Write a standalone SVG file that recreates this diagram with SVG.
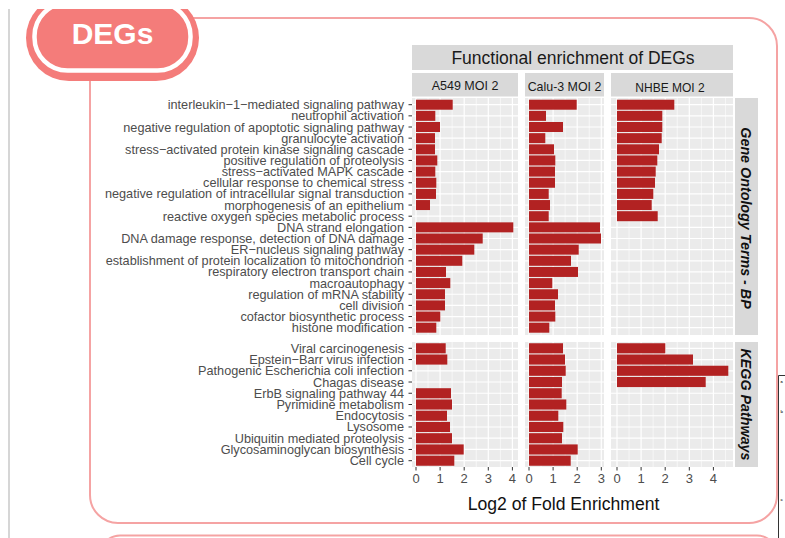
<svg xmlns="http://www.w3.org/2000/svg" width="785" height="538" viewBox="0 0 785 538">
<defs>
<style>
.lbl{font-family:"Liberation Sans",Arial,sans-serif;font-size:12.7px;fill:#4d4d4d;text-anchor:end}
.tk{font-family:"Liberation Sans",Arial,sans-serif;font-size:13px;fill:#4d4d4d;text-anchor:middle}
.strip{fill:#d9d9d9}
.panel{fill:#ebebeb}
.bar{fill:#b22222}
.stxt{font-family:"Liberation Sans",Arial,sans-serif;fill:#1a1a1a;text-anchor:middle}
.rtxt{font-family:"Liberation Sans",Arial,sans-serif;font-weight:bold;font-style:italic;font-size:14.3px;fill:#111;text-anchor:middle}
</style>
<clipPath id="top"><rect x="0" y="9" width="785" height="529"/></clipPath>
</defs>
<rect x="0" y="0" width="785" height="538" fill="#fff"/>
<line x1="9" y1="9" x2="9" y2="538" stroke="#c8c8c8" stroke-width="1.5"/>

<g id="frame">
<rect x="90" y="18" width="687" height="505" rx="28" fill="none" stroke="#f5a3a3" stroke-width="2"/>
<rect x="100" y="535.5" width="677" height="40" rx="20" fill="none" stroke="#f5a3a3" stroke-width="2"/>
</g>

<g id="badge" clip-path="url(#top)">
<rect x="26" y="-5" width="173" height="86" rx="43" fill="#f47c7a"/>
<rect x="34.5" y="3" width="156" height="67.5" rx="33" fill="#f47c7a" stroke="#fff" stroke-width="4.5"/>
<text x="112.5" y="43.5" font-family="'Liberation Sans',Arial,sans-serif" font-size="30" font-weight="bold" fill="#fff" text-anchor="middle">DEGs</text>
</g>

<g id="side-box">
<path d="M785 375.5H778.5V538" fill="none" stroke="#333" stroke-width="1"/>
<text x="780.5" y="383" font-family="'Liberation Sans',Arial,sans-serif" font-size="4" font-weight="bold" fill="#333">a</text>
<text x="780.5" y="413" font-family="'Liberation Sans',Arial,sans-serif" font-size="4" font-weight="bold" fill="#333">b</text>
<text x="780.5" y="501" font-family="'Liberation Sans',Arial,sans-serif" font-size="4" font-weight="bold" fill="#333">c</text>
</g>

<g id="strips">
<rect class="strip" x="412" y="45" width="321" height="25"/>
<text class="stxt" x="573" y="64" font-size="17.5">Functional enrichment of DEGs</text>
<rect class="strip" x="412" y="73" width="106" height="23.5"/>
<rect class="strip" x="525" y="73" width="79" height="23.5"/>
<rect class="strip" x="611" y="73" width="122" height="23.5"/>
<text class="stxt" x="465" y="90" font-size="12.5">A549 MOI 2</text>
<text class="stxt" x="564.5" y="91" font-size="12.4">Calu-3 MOI 2</text>
<text class="stxt" x="670" y="91.5" font-size="12">NHBE MOI 2</text>
<rect class="strip" x="735" y="98" width="23" height="237"/>
<rect class="strip" x="735" y="342" width="23" height="125"/>
<text class="rtxt" transform="translate(741,218) rotate(90)">Gene Ontology Terms - BP</text>
<text class="rtxt" transform="translate(741,404.5) rotate(90)">KEGG Pathways</text>
</g>

<g id="panels">
<rect class="panel" x="412" y="98" width="106" height="237"/>
<rect class="panel" x="525" y="98" width="79" height="237"/>
<rect class="panel" x="611" y="98" width="122" height="237"/>
<rect class="panel" x="412" y="342" width="106" height="125"/>
<rect class="panel" x="525" y="342" width="79" height="125"/>
<rect class="panel" x="611" y="342" width="122" height="125"/>
<path fill="none" stroke="#fff" stroke-width="0.6" d="M428.05 98V467M452.15 98V467M476.25 98V467M500.35 98V467M541.05 98V467M565.15 98V467M589.25 98V467M629.05 98V467M653.15 98V467M677.25 98V467M701.35 98V467M725.45 98V467"/>
<path fill="none" stroke="#fff" stroke-width="1.2" d="M416 98V467M440.1 98V467M464.2 98V467M488.3 98V467M512.4 98V467M529 98V467M553.1 98V467M577.2 98V467M601.3 98V467M617 98V467M641.1 98V467M665.2 98V467M689.3 98V467M713.4 98V467"/>
<path fill="none" stroke="#fff" stroke-width="1.2" d="M412 104.7H733M412 115.85H733M412 127H733M412 138.15H733M412 149.3H733M412 160.45H733M412 171.6H733M412 182.75H733M412 193.9H733M412 205.05H733M412 216.2H733M412 227.35H733M412 238.5H733M412 249.65H733M412 260.8H733M412 271.95H733M412 283.1H733M412 294.25H733M412 305.4H733M412 316.55H733M412 327.7H733M412 348.3H733M412 359.54H733M412 370.78H733M412 382.02H733M412 393.26H733M412 404.5H733M412 415.74H733M412 426.98H733M412 438.22H733M412 449.46H733M412 460.7H733"/>
</g>

<g id="bars-a549">
<rect class="bar" x="416" y="99.7" width="36.7" height="10"/>
<rect class="bar" x="416" y="110.85" width="19.3" height="10"/>
<rect class="bar" x="416" y="122" width="24" height="10"/>
<rect class="bar" x="416" y="133.15" width="19" height="10"/>
<rect class="bar" x="416" y="144.3" width="19" height="10"/>
<rect class="bar" x="416" y="155.45" width="21.3" height="10"/>
<rect class="bar" x="416" y="166.6" width="19.3" height="10"/>
<rect class="bar" x="416" y="177.75" width="20.3" height="10"/>
<rect class="bar" x="416" y="188.9" width="20" height="10"/>
<rect class="bar" x="416" y="200.05" width="14" height="10"/>
<rect class="bar" x="416" y="222.35" width="97.3" height="10"/>
<rect class="bar" x="416" y="233.5" width="66.7" height="10"/>
<rect class="bar" x="416" y="244.65" width="58.3" height="10"/>
<rect class="bar" x="416" y="255.8" width="46.3" height="10"/>
<rect class="bar" x="416" y="266.95" width="30" height="10"/>
<rect class="bar" x="416" y="278.1" width="34.3" height="10"/>
<rect class="bar" x="416" y="289.25" width="29" height="10"/>
<rect class="bar" x="416" y="300.4" width="29" height="10"/>
<rect class="bar" x="416" y="311.55" width="24.3" height="10"/>
<rect class="bar" x="416" y="322.7" width="20.3" height="10"/>
<rect class="bar" x="416" y="343.25" width="29.7" height="10.1"/>
<rect class="bar" x="416" y="354.49" width="31.3" height="10.1"/>
<rect class="bar" x="416" y="388.21" width="35" height="10.1"/>
<rect class="bar" x="416" y="399.45" width="36" height="10.1"/>
<rect class="bar" x="416" y="410.69" width="31" height="10.1"/>
<rect class="bar" x="416" y="421.93" width="34" height="10.1"/>
<rect class="bar" x="416" y="433.17" width="36" height="10.1"/>
<rect class="bar" x="416" y="444.41" width="47.7" height="10.1"/>
<rect class="bar" x="416" y="455.65" width="38.3" height="10.1"/>
</g>

<g id="bars-calu3">
<rect class="bar" x="529" y="99.7" width="47.7" height="10"/>
<rect class="bar" x="529" y="110.85" width="17" height="10"/>
<rect class="bar" x="529" y="122" width="34" height="10"/>
<rect class="bar" x="529" y="133.15" width="16.3" height="10"/>
<rect class="bar" x="529" y="144.3" width="25" height="10"/>
<rect class="bar" x="529" y="155.45" width="26.3" height="10"/>
<rect class="bar" x="529" y="166.6" width="26" height="10"/>
<rect class="bar" x="529" y="177.75" width="26" height="10"/>
<rect class="bar" x="529" y="188.9" width="19.7" height="10"/>
<rect class="bar" x="529" y="200.05" width="21" height="10"/>
<rect class="bar" x="529" y="211.2" width="19.7" height="10"/>
<rect class="bar" x="529" y="222.35" width="71" height="10"/>
<rect class="bar" x="529" y="233.5" width="72" height="10"/>
<rect class="bar" x="529" y="244.65" width="49.7" height="10"/>
<rect class="bar" x="529" y="255.8" width="42" height="10"/>
<rect class="bar" x="529" y="266.95" width="49" height="10"/>
<rect class="bar" x="529" y="278.1" width="23.3" height="10"/>
<rect class="bar" x="529" y="289.25" width="29" height="10"/>
<rect class="bar" x="529" y="300.4" width="26" height="10"/>
<rect class="bar" x="529" y="311.55" width="26.3" height="10"/>
<rect class="bar" x="529" y="322.7" width="20.3" height="10"/>
<rect class="bar" x="529" y="343.25" width="34" height="10.1"/>
<rect class="bar" x="529" y="354.49" width="36" height="10.1"/>
<rect class="bar" x="529" y="365.73" width="36.7" height="10.1"/>
<rect class="bar" x="529" y="376.97" width="33" height="10.1"/>
<rect class="bar" x="529" y="388.21" width="32.7" height="10.1"/>
<rect class="bar" x="529" y="399.45" width="37.3" height="10.1"/>
<rect class="bar" x="529" y="410.69" width="29.3" height="10.1"/>
<rect class="bar" x="529" y="421.93" width="34.3" height="10.1"/>
<rect class="bar" x="529" y="433.17" width="33" height="10.1"/>
<rect class="bar" x="529" y="444.41" width="48.7" height="10.1"/>
<rect class="bar" x="529" y="455.65" width="41.7" height="10.1"/>
</g>

<g id="bars-nhbe">
<rect class="bar" x="617" y="99.7" width="57.3" height="10"/>
<rect class="bar" x="617" y="110.85" width="45.3" height="10"/>
<rect class="bar" x="617" y="122" width="45.3" height="10"/>
<rect class="bar" x="617" y="133.15" width="44.7" height="10"/>
<rect class="bar" x="617" y="144.3" width="42" height="10"/>
<rect class="bar" x="617" y="155.45" width="40.3" height="10"/>
<rect class="bar" x="617" y="166.6" width="38.7" height="10"/>
<rect class="bar" x="617" y="177.75" width="38" height="10"/>
<rect class="bar" x="617" y="188.9" width="36.3" height="10"/>
<rect class="bar" x="617" y="200.05" width="34.7" height="10"/>
<rect class="bar" x="617" y="211.2" width="40.7" height="10"/>
<rect class="bar" x="617" y="343.25" width="48.3" height="10.1"/>
<rect class="bar" x="617" y="354.49" width="76" height="10.1"/>
<rect class="bar" x="617" y="365.73" width="111.3" height="10.1"/>
<rect class="bar" x="617" y="376.97" width="88.7" height="10.1"/>
</g>

<g id="axes">
<path fill="none" stroke="#333" stroke-width="1" d="M408.5 104.7h3.5M408.5 115.85h3.5M408.5 127h3.5M408.5 138.15h3.5M408.5 149.3h3.5M408.5 160.45h3.5M408.5 171.6h3.5M408.5 182.75h3.5M408.5 193.9h3.5M408.5 205.05h3.5M408.5 216.2h3.5M408.5 227.35h3.5M408.5 238.5h3.5M408.5 249.65h3.5M408.5 260.8h3.5M408.5 271.95h3.5M408.5 283.1h3.5M408.5 294.25h3.5M408.5 305.4h3.5M408.5 316.55h3.5M408.5 327.7h3.5M408.5 348.3h3.5M408.5 359.54h3.5M408.5 370.78h3.5M408.5 382.02h3.5M408.5 393.26h3.5M408.5 404.5h3.5M408.5 415.74h3.5M408.5 426.98h3.5M408.5 438.22h3.5M408.5 449.46h3.5M408.5 460.7h3.5"/>
<path fill="none" stroke="#333" stroke-width="1" d="M416 467v3.5M440.1 467v3.5M464.2 467v3.5M488.3 467v3.5M512.4 467v3.5M529 467v3.5M553.1 467v3.5M577.2 467v3.5M601.3 467v3.5M617 467v3.5M641.1 467v3.5M665.2 467v3.5M689.3 467v3.5M713.4 467v3.5"/>
<text class="tk" x="416" y="483">0</text><text class="tk" x="440.1" y="483">1</text><text class="tk" x="464.2" y="483">2</text><text class="tk" x="488.3" y="483">3</text><text class="tk" x="512.4" y="483">4</text>
<text class="tk" x="529" y="483">0</text><text class="tk" x="553.1" y="483">1</text><text class="tk" x="577.2" y="483">2</text><text class="tk" x="601.3" y="483">3</text>
<text class="tk" x="617" y="483">0</text><text class="tk" x="641.1" y="483">1</text><text class="tk" x="665.2" y="483">2</text><text class="tk" x="689.3" y="483">3</text><text class="tk" x="713.4" y="483">4</text>
<text x="563.5" y="510" font-family="'Liberation Sans',Arial,sans-serif" font-size="17.6" fill="#111" text-anchor="middle">Log2 of Fold Enrichment</text>
</g>

<g id="labels-go">
<text class="lbl" x="404" y="109.2">interleukin−1−mediated signaling pathway</text>
<text class="lbl" x="404" y="120.35">neutrophil activation</text>
<text class="lbl" x="404" y="131.5">negative regulation of apoptotic signaling pathway</text>
<text class="lbl" x="404" y="142.65">granulocyte activation</text>
<text class="lbl" x="404" y="153.8">stress−activated protein kinase signaling cascade</text>
<text class="lbl" x="404" y="164.95">positive regulation of proteolysis</text>
<text class="lbl" x="404" y="176.1">stress−activated MAPK cascade</text>
<text class="lbl" x="404" y="187.25">cellular response to chemical stress</text>
<text class="lbl" x="404" y="198.4">negative regulation of intracellular signal transduction</text>
<text class="lbl" x="404" y="209.55">morphogenesis of an epithelium</text>
<text class="lbl" x="404" y="220.7">reactive oxygen species metabolic process</text>
<text class="lbl" x="404" y="231.85">DNA strand elongation</text>
<text class="lbl" x="404" y="243">DNA damage response, detection of DNA damage</text>
<text class="lbl" x="404" y="254.15">ER−nucleus signaling pathway</text>
<text class="lbl" x="404" y="265.3">establishment of protein localization to mitochondrion</text>
<text class="lbl" x="404" y="276.45">respiratory electron transport chain</text>
<text class="lbl" x="404" y="287.6">macroautophagy</text>
<text class="lbl" x="404" y="298.75">regulation of mRNA stability</text>
<text class="lbl" x="404" y="309.9">cell division</text>
<text class="lbl" x="404" y="321.05">cofactor biosynthetic process</text>
<text class="lbl" x="404" y="332.2">histone modification</text>
</g>

<g id="labels-kegg">
<text class="lbl" x="404" y="352.8">Viral carcinogenesis</text>
<text class="lbl" x="404" y="364.04">Epstein−Barr virus infection</text>
<text class="lbl" x="404" y="375.28">Pathogenic Escherichia coli infection</text>
<text class="lbl" x="404" y="386.52">Chagas disease</text>
<text class="lbl" x="404" y="397.76">ErbB signaling pathway 44</text>
<text class="lbl" x="404" y="409">Pyrimidine metabolism</text>
<text class="lbl" x="404" y="420.24">Endocytosis</text>
<text class="lbl" x="404" y="431.48">Lysosome</text>
<text class="lbl" x="404" y="442.72">Ubiquitin mediated proteolysis</text>
<text class="lbl" x="404" y="453.96">Glycosaminoglycan biosynthesis</text>
<text class="lbl" x="404" y="465.2">Cell cycle</text>
</g>
</svg>
